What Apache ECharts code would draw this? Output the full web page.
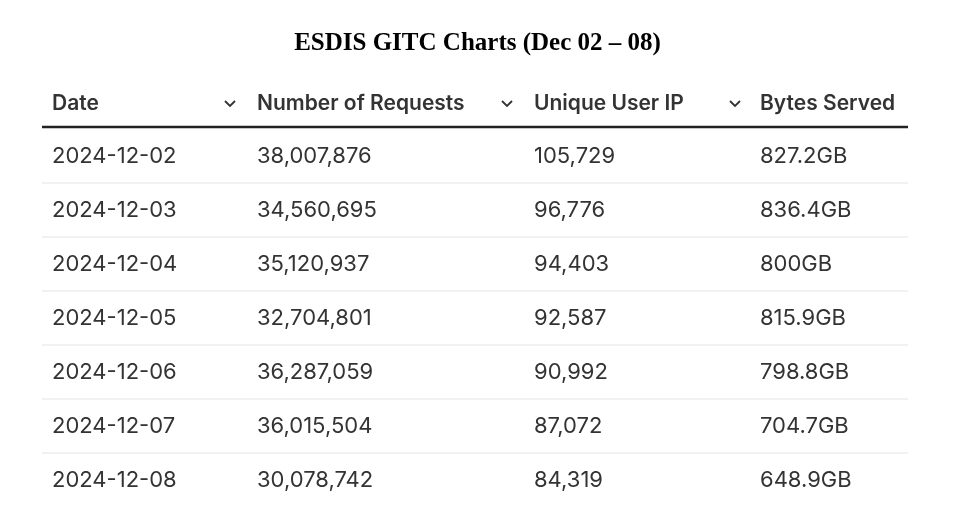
<![CDATA[<!DOCTYPE html>
<html><head><meta charset="utf-8">
<script src="https://cdn.jsdelivr.net/npm/echarts@6/dist/echarts.min.js"></script>
<style>html,body{margin:0;padding:0;background:#fff}#c{width:955px;height:510px}</style>
</head><body><div id="c"></div>
<script>
const title = "ESDIS GITC Charts (Dec 02 – 08)";
const headers = ["Date", "Number of Requests", "Unique User IP", "Bytes Served"];
const dates = ["2024-12-02","2024-12-03","2024-12-04","2024-12-05","2024-12-06","2024-12-07","2024-12-08"];
const requests = ["38,007,876","34,560,695","35,120,937","32,704,801","36,287,059","36,015,504","30,078,742"];
const uniqueIPs = ["105,729","96,776","94,403","92,587","90,992","87,072","84,319"];
const bytesServed = ["827.2GB","836.4GB","800GB","815.9GB","798.8GB","704.7GB","648.9GB"];

const colX = [52, 257, 534, 760];
const chevX = [230, 507, 735];
const tableL = 42, tableR = 908;
const headerY = 104, headerLine = 127, firstRowY = 156, rowH = 54;
const font = "Inter, 'Noto Sans', sans-serif";

const chart = echarts.init(document.getElementById('c'));
const rowsData = dates.map((d, i) => [i]);
chart.setOption({
  animation: false,
  title: { text: title, left: 'center', top: 26,
    textStyle: { fontFamily: "'Liberation Serif', serif", fontWeight: 'bold', fontSize: 25, color: '#000' } },
  grid: { left: 0, right: 0, top: 0, bottom: 0 },
  xAxis: { type: 'value', min: 0, max: 955, show: false },
  yAxis: { type: 'value', min: 0, max: 510, inverse: true, show: false },
  series: [
    { type: 'custom', data: [[0]], renderItem: (params, api) => {
        const ch = [];
        headers.forEach((h, j) => {
          const p = api.coord([colX[j], headerY]);
          ch.push({ type: 'text', x: p[0], y: p[1], style: { text: h, fill: '#333', font: `600 21px ${font}`, textVerticalAlign: 'middle' } });
        });
        chevX.forEach(x => {
          const p = api.coord([x, headerY]);
          ch.push({ type: 'polyline', shape: { points: [[p[0]-5, p[1]-3], [p[0], p[1]+2], [p[0]+5, p[1]-3]] }, style: { stroke: '#333', lineWidth: 1.8, fill: null } });
        });
        const a = api.coord([tableL, headerLine]), b = api.coord([tableR, headerLine]);
        ch.push({ type: 'line', shape: { x1: a[0], y1: a[1], x2: b[0], y2: b[1] }, style: { stroke: '#222', lineWidth: 2.5 } });
        return { type: 'group', children: ch };
      } },
    { type: 'custom', data: rowsData, renderItem: (params, api) => {
        const i = api.value(0);
        const vals = [dates[i], requests[i], uniqueIPs[i], bytesServed[i]];
        const cy = firstRowY + i * rowH;
        const ch = vals.map((v, j) => {
          const p = api.coord([colX[j], cy]);
          return { type: 'text', x: p[0], y: p[1], style: { text: v, fill: '#333', font: `400 22px ${font}`, textVerticalAlign: 'middle' } };
        });
        if (i < dates.length - 1) {
          const a = api.coord([tableL, cy + rowH / 2]), b = api.coord([tableR, cy + rowH / 2]);
          ch.push({ type: 'line', shape: { x1: a[0], y1: a[1], x2: b[0], y2: b[1] }, style: { stroke: '#e3e3e8', lineWidth: 1 } });
        }
        return { type: 'group', children: ch };
      } }
  ]
});
</script></body></html>]]>
